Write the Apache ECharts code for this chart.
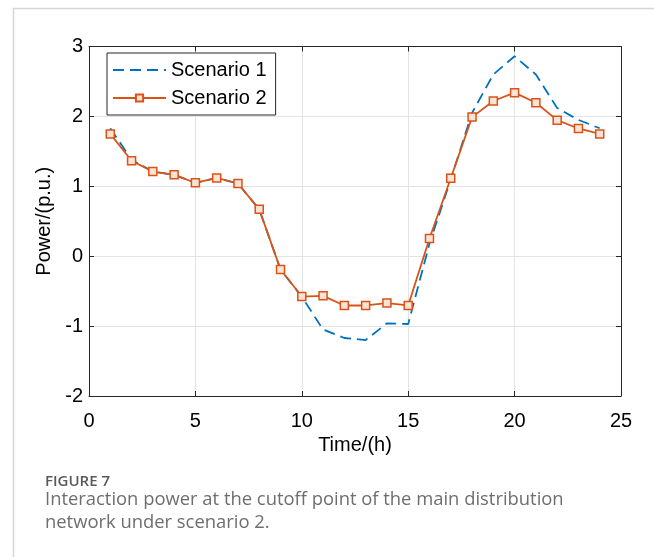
<!DOCTYPE html>
<html>
<head>
<meta charset="utf-8">
<script src="https://cdn.jsdelivr.net/npm/echarts@6/dist/echarts.min.js"></script>
<style>
html,body{margin:0;padding:0;background:#fff;}
#chart{width:654px;height:557px;}
</style>
</head>
<body>
<div id="chart"></div>
<script>
var hours = [1,2,3,4,5,6,7,8,9,10,11,12,13,14,15,16,17,18,19,20,21,22,23,24];
var scenario1 = [1.83,1.38,1.21,1.165,1.05,1.12,1.04,0.67,-0.19,-0.58,-1.05,-1.17,-1.2,-0.96,-0.97,0.18,1.1,2.05,2.6,2.86,2.6,2.12,1.95,1.83];
var scenario2 = [1.75,1.365,1.21,1.165,1.05,1.12,1.04,0.67,-0.19,-0.577,-0.567,-0.705,-0.705,-0.67,-0.705,0.253,1.116,1.99,2.22,2.34,2.195,1.946,1.827,1.75];
var xTicks = [0,5,10,15,20,25];
var yTicks = [-2,-1,0,1,2,3];
var seriesNames = ['Scenario 1','Scenario 2'];
var captionTitle = 'FIGURE 7';
var captionLines = ['Interaction power at the cutoff point of the main distribution','network under scenario 2.'];

function pairs(xs, ys){ return xs.map(function(x,i){ return [x, ys[i]]; }); }

var axisColor = '#262626';
var gridColor = '#e3e3e3';
var fontFam = 'Liberation Sans, Arial, sans-serif';
var fs = 20;

var chart = echarts.init(document.getElementById('chart'), null, {renderer:'canvas'});
chart.setOption({
  animation:false,
  backgroundColor:'#fff',
  grid:{left:89, top:46.5, right:33, bottom:161, containLabel:false},
  legend:{
    data:[{name:seriesNames[0], itemStyle:{opacity:0}},{name:seriesNames[1]}],
    orient:'vertical', left:107, top:53,
    itemWidth:53, itemHeight:9, itemGap:8,
    padding:[7,9,7,5],
    borderColor:axisColor, borderWidth:1, backgroundColor:'#fff',
    textStyle:{fontFamily:fontFam, fontSize:fs, color:'#000', lineHeight:19}
  },
  xAxis:[{
    type:'value', min:xTicks[0], max:xTicks[xTicks.length-1], interval:5,
    name:'Time/(h)', nameLocation:'middle', nameGap:26,
    nameTextStyle:{fontFamily:fontFam, fontSize:fs, color:'#000'},
    axisLine:{show:true, onZero:false, lineStyle:{color:axisColor, width:1}},
    axisTick:{inside:true, length:5, lineStyle:{color:axisColor}},
    axisLabel:{fontFamily:fontFam, fontSize:fs, color:'#000', margin:15},
    splitLine:{show:true, lineStyle:{color:gridColor, width:1}}
  },{
    type:'value', position:'top', min:xTicks[0], max:xTicks[xTicks.length-1], interval:5,
    axisLine:{show:true, onZero:false, lineStyle:{color:axisColor, width:1}},
    axisTick:{inside:true, length:5, lineStyle:{color:axisColor}},
    axisLabel:{show:false}, splitLine:{show:false}
  }],
  yAxis:[{
    type:'value', min:yTicks[0], max:yTicks[yTicks.length-1], interval:1,
    name:'Power/(p.u.)', nameLocation:'middle', nameGap:27, nameRotate:90,
    nameTextStyle:{fontFamily:fontFam, fontSize:fs, color:'#000'},
    axisLine:{show:true, onZero:false, lineStyle:{color:axisColor, width:1}},
    axisTick:{show:true, inside:true, length:5, lineStyle:{color:axisColor}},
    axisLabel:{fontFamily:fontFam, fontSize:fs, color:'#000', margin:6},
    splitLine:{show:true, lineStyle:{color:gridColor, width:1}}
  },{
    type:'value', position:'right', min:yTicks[0], max:yTicks[yTicks.length-1], interval:1,
    axisLine:{show:true, onZero:false, lineStyle:{color:axisColor, width:1}},
    axisTick:{show:true, inside:true, length:5, lineStyle:{color:axisColor}},
    axisLabel:{show:false}, splitLine:{show:false}
  }],
  series:[{
    name:seriesNames[0], type:'line', data:pairs(hours, scenario1),
    showSymbol:false, symbol:'none', color:'#0072BD',
    lineStyle:{color:'#0072BD', width:1.8, type:[11,6]},
    z:2
  },{
    name:seriesNames[1], type:'line', data:pairs(hours, scenario2),
    symbol:'rect', symbolSize:8, showSymbol:true, color:'#D95319',
    itemStyle:{color:'#fbe3d6', borderColor:'#D95319', borderWidth:1.5},
    lineStyle:{color:'#D95319', width:1.8},
    z:3
  }],
  graphic:[
    {type:'line', shape:{x1:13.5, y1:8, x2:13.5, y2:557}, style:{stroke:'#d6d6d6', lineWidth:1.5}},
    {type:'line', shape:{x1:13, y1:8.5, x2:654, y2:8.5}, style:{stroke:'#d6d6d6', lineWidth:1.5}},
    {type:'text', left:45, top:474, style:{text:captionTitle, font:'600 15px "Open Sans", "Noto Sans", sans-serif', fill:'#595959'}},
    {type:'text', left:45, top:491, style:{text:captionLines[0], font:'18.4px "Open Sans", "Noto Sans", sans-serif', fill:'#6e6e6e'}},
    {type:'text', left:45, top:514, style:{text:captionLines[1], font:'18.4px "Open Sans", "Noto Sans", sans-serif', fill:'#6e6e6e'}}
  ]
});
</script>
</body>
</html>
